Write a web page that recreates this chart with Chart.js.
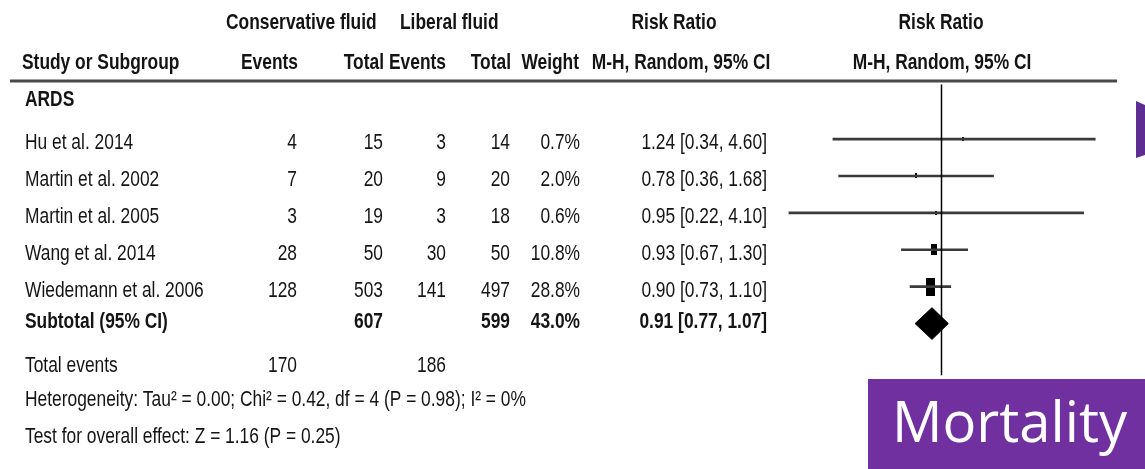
<!DOCTYPE html>
<html>
<head>
<meta charset="utf-8">
<script src="https://cdn.jsdelivr.net/npm/chart.js@4/dist/chart.umd.min.js"></script>
<style>
  body { margin: 0; background: #fff; }
  #wrap { width: 1145px; height: 469px; position: relative; }
</style>
</head>
<body>
<div id="wrap"><canvas id="forest"></canvas></div>
<script>
const studies = ['Hu et al. 2014', 'Martin et al. 2002', 'Martin et al. 2005', 'Wang et al. 2014', 'Wiedemann et al. 2006'];
const consEvents = [4, 7, 3, 28, 128];
const consTotal = [15, 20, 19, 50, 503];
const libEvents = [3, 9, 3, 30, 141];
const libTotal = [14, 20, 18, 50, 497];
const weights = [0.7, 2.0, 0.6, 10.8, 28.8];
const riskRatio = [1.24, 0.78, 0.95, 0.93, 0.90];
const ciLow = [0.34, 0.36, 0.22, 0.67, 0.73];
const ciHigh = [4.60, 1.68, 4.10, 1.30, 1.10];

const subtotalRR = [0.91, 0.77, 1.07];   // estimate, low, high
const subtotalN = [607, 599];
const subtotalWeight = 43.0;
const totalEvents = [170, 186];

// layout
const ROW_H = 37.7;
const FIRST_ROW_Y = 137;
const H = 469;
const yMin = -FIRST_ROW_Y / ROW_H;
const yMax = yMin + H / ROW_H;
const subRow = studies.length;

const fmt = v => v.toFixed(2);
const ciText = (e, l, h) => fmt(e) + ' [' + fmt(l) + ', ' + fmt(h) + ']';

// weighted box (drawn tall, like the squeezed original)
function boxFor(w) {
  const h = Math.max(4, 18 * Math.sqrt(w / 28.8));
  const c = document.createElement('canvas');
  c.width = Math.max(2, Math.round(h / 2));
  c.height = Math.round(h);
  const g = c.getContext('2d');
  g.fillStyle = '#000';
  g.fillRect(0, 0, c.width, c.height);
  return c;
}

const ciSets = studies.map((s, i) => ({
  type: 'line',
  data: [{x: ciLow[i], y: i}, {x: ciHigh[i], y: i}],
  borderColor: '#3a3a3a',
  borderWidth: 2.6,
  pointRadius: 0,
  clip: false
}));

const d = 0.43;
const diamond = {
  type: 'line',
  data: [
    {x: subtotalRR[1], y: subRow}, {x: subtotalRR[0], y: subRow - d},
    {x: subtotalRR[2], y: subRow}, {x: subtotalRR[0], y: subRow + d},
    {x: subtotalRR[1], y: subRow}
  ],
  borderColor: '#000',
  backgroundColor: '#000',
  borderWidth: 1,
  pointRadius: 0,
  fill: 'shape',
  tension: 0,
  clip: false
};

const noEffect = {
  type: 'line',
  data: [{x: 1, y: -1.48}, {x: 1, y: 6.4}],
  borderColor: '#000',
  borderWidth: 1.5,
  pointRadius: 0,
  clip: false
};

const boxes = {
  type: 'scatter',
  data: riskRatio.map((v, i) => ({x: v, y: i})),
  pointStyle: ctx => boxFor(weights[ctx.dataIndex]),
  clip: false
};

function txt(ctx, s, x, y, align, bold, size) {
  ctx.save();
  ctx.font = (bold ? 'bold ' : '') + size + 'px "Liberation Sans", Arial, sans-serif';
  ctx.fillStyle = '#141414';
  ctx.textBaseline = 'middle';
  ctx.textAlign = align;
  ctx.translate(x, y);
  ctx.scale(0.79, 1);
  ctx.fillText(s, 0, 0);
  ctx.restore();
}

const tablePlugin = {
  id: 'table',
  afterDraw(chart) {
    const ctx = chart.ctx;
    const y = chart.scales.y;
    const fs = 22;

    // header
    txt(ctx, 'Conservative fluid', 226, 23, 'left', true, fs);
    txt(ctx, 'Liberal fluid', 400, 23, 'left', true, fs);
    txt(ctx, 'Risk Ratio', 674, 23, 'center', true, fs);
    txt(ctx, 'Risk Ratio', 941, 23, 'center', true, fs);
    txt(ctx, 'Study or Subgroup', 22, 63, 'left', true, fs);
    txt(ctx, 'Events', 298, 63, 'right', true, fs);
    txt(ctx, 'Total', 384, 63, 'right', true, fs);
    txt(ctx, 'Events', 446, 63, 'right', true, fs);
    txt(ctx, 'Total', 511, 63, 'right', true, fs);
    txt(ctx, 'Weight', 579, 63, 'right', true, fs);
    txt(ctx, 'M-H, Random, 95% CI', 681, 63, 'center', true, fs);
    txt(ctx, 'M-H, Random, 95% CI', 942, 63, 'center', true, fs);

    ctx.save();
    ctx.strokeStyle = '#4a4a4a';
    ctx.lineWidth = 3;
    ctx.beginPath();
    ctx.moveTo(10, 81);
    ctx.lineTo(1117, 81);
    ctx.stroke();
    ctx.restore();

    txt(ctx, 'ARDS', 25, 100, 'left', true, fs);

    studies.forEach((s, i) => {
      const py = y.getPixelForValue(i) + 4;
      txt(ctx, s, 25, py, 'left', false, fs);
      txt(ctx, String(consEvents[i]), 297, py, 'right', false, fs);
      txt(ctx, String(consTotal[i]), 383, py, 'right', false, fs);
      txt(ctx, String(libEvents[i]), 446, py, 'right', false, fs);
      txt(ctx, String(libTotal[i]), 510, py, 'right', false, fs);
      txt(ctx, weights[i].toFixed(1) + '%', 580, py, 'right', false, fs);
      txt(ctx, ciText(riskRatio[i], ciLow[i], ciHigh[i]), 767, py, 'right', false, fs);
    });

    const sy = y.getPixelForValue(subRow) - 2;
    txt(ctx, 'Subtotal (95% CI)', 25, sy, 'left', true, fs);
    txt(ctx, String(subtotalN[0]), 383, sy, 'right', true, fs);
    txt(ctx, String(subtotalN[1]), 510, sy, 'right', true, fs);
    txt(ctx, subtotalWeight.toFixed(1) + '%', 580, sy, 'right', true, fs);
    txt(ctx, ciText(subtotalRR[0], subtotalRR[1], subtotalRR[2]), 767, sy, 'right', true, fs);

    txt(ctx, 'Total events', 25, 366, 'left', false, fs);
    txt(ctx, String(totalEvents[0]), 297, 366, 'right', false, fs);
    txt(ctx, String(totalEvents[1]), 446, 366, 'right', false, fs);
    txt(ctx, 'Heterogeneity: Tau\u00b2 = 0.00; Chi\u00b2 = 0.42, df = 4 (P = 0.98); I\u00b2 = 0%', 25, 400, 'left', false, fs);
    txt(ctx, 'Test for overall effect: Z = 1.16 (P = 0.25)', 25, 437, 'left', false, fs);

    // purple arrow stub at the right edge
    ctx.save();
    ctx.fillStyle = '#5d2d91';
    ctx.beginPath();
    ctx.moveTo(1136, 101);
    ctx.lineTo(1145, 105);
    ctx.lineTo(1145, 155);
    ctx.lineTo(1136, 158);
    ctx.closePath();
    ctx.fill();

    // Mortality label box
    ctx.fillStyle = '#7030a0';
    ctx.fillRect(868, 379, 277, 90);
    ctx.fillStyle = '#fff';
    ctx.font = '50px "Open Sans", sans-serif';
    const w = ctx.measureText('Mortality').width;
    ctx.font = (50 * 235 / w).toFixed(1) + 'px "Open Sans", sans-serif';
    ctx.textAlign = 'left';
    ctx.textBaseline = 'alphabetic';
    ctx.fillText('Mortality', 892, 442);
    ctx.restore();
  }
};

new Chart(document.getElementById('forest'), {
  type: 'scatter',
  data: { datasets: [noEffect, ...ciSets, boxes, diamond] },
  options: {
    responsive: true,
    maintainAspectRatio: false,
    animation: false,
    layout: { padding: { left: 779, right: 41, top: 0, bottom: 0 } },
    plugins: { legend: { display: false }, tooltip: { enabled: false } },
    scales: {
      x: { type: 'logarithmic', min: 0.2, max: 5, display: false },
      y: { type: 'linear', reverse: true, min: yMin, max: yMax, display: false }
    }
  },
  plugins: [tablePlugin]
});
</script>
</body>
</html>
